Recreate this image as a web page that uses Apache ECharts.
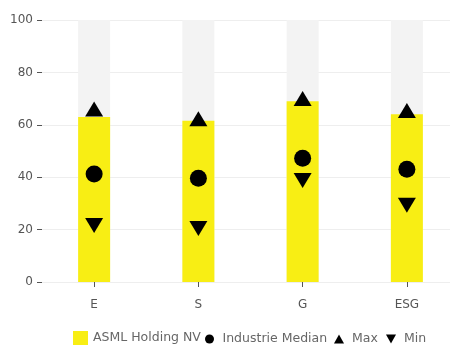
<!DOCTYPE html>
<html><head><meta charset="utf-8">
<script src="https://cdn.jsdelivr.net/npm/echarts@6/dist/echarts.min.js"></script>
<style>html,body{margin:0;padding:0;background:#fff;overflow:hidden;width:450px;height:345px}#c{width:459px;height:345px}</style>
</head><body><div id="c"></div>
<script>
var categories = ['E', 'S', 'G', 'ESG'];
var companyValues = [63, 61.5, 69, 64];
var medianValues = [41.2, 39.6, 47.2, 43];
var maxValues = [66, 62.3, 70, 65.5];
var minValues = [21.6, 20.4, 38.7, 29.3];
var yTicks = [0, 20, 40, 60, 80, 100];

var font = 'DejaVu Sans';
var legendText = {color: '#666', fontSize: 12.5, fontFamily: font};
function smallLegend(name, icon, left) {
  return {
    data: [{name: name, icon: icon}],
    left: left, top: 332.5, padding: 0,
    itemWidth: 16, itemHeight: 9,
    textStyle: legendText,
    selectedMode: false
  };
}
var chart = echarts.init(document.getElementById('c'), null, {renderer: 'canvas'});
chart.setOption({
  animation: false,
  textStyle: {fontFamily: font},
  grid: {left: 42, right: 0, top: 20, bottom: 63},
  legend: [{
    data: [{name: 'ASML Holding NV', icon: 'rect'}],
    left: 73, top: 331, padding: 0,
    itemWidth: 15, itemHeight: 14,
    textStyle: legendText,
    selectedMode: false
  },
    smallLegend('Industrie Median', 'circle', 205),
    smallLegend('Max', 'path://M5,0L10,9L0,9Z', 334),
    smallLegend('Min', 'path://M0,0L10,0L5,9Z', 386)
  ],
  xAxis: {
    type: 'category',
    data: categories,
    offset: 11,
    axisLine: {show: false},
    axisTick: {show: true, alignWithLabel: true, length: 5, lineStyle: {color: '#555'}},
    axisLabel: {color: '#555', fontSize: 12, margin: 6, fontFamily: font}
  },
  yAxis: {
    type: 'value',
    min: 0, max: 100, interval: 20,
    axisLine: {show: false},
    axisTick: {show: true, length: 5, lineStyle: {color: '#555'}},
    axisLabel: {color: '#555', fontSize: 12, margin: 9, fontFamily: font,
      formatter: function (v) { return yTicks.indexOf(v) >= 0 ? String(v) : ''; }},
    splitLine: {show: true, lineStyle: {color: '#eeeeee'}}
  },
  series: [{
    name: 'ASML Holding NV',
    type: 'bar',
    data: companyValues,
    barWidth: 32,
    showBackground: true,
    backgroundStyle: {color: '#f3f3f3'},
    itemStyle: {color: '#f8ee14'}
  }, {
    name: 'Industrie Median',
    type: 'scatter',
    data: medianValues,
    symbol: 'circle',
    symbolSize: 17,
    itemStyle: {color: '#000', opacity: 1}
  }, {
    name: 'Max',
    type: 'scatter',
    data: maxValues,
    symbol: 'triangle',
    symbolSize: [18, 15],
    itemStyle: {color: '#000', opacity: 1}
  }, {
    name: 'Min',
    type: 'scatter',
    data: minValues,
    symbol: 'triangle',
    symbolRotate: 180,
    symbolSize: [18, 15],
    itemStyle: {color: '#000', opacity: 1}
  }]
});
</script></body></html>
